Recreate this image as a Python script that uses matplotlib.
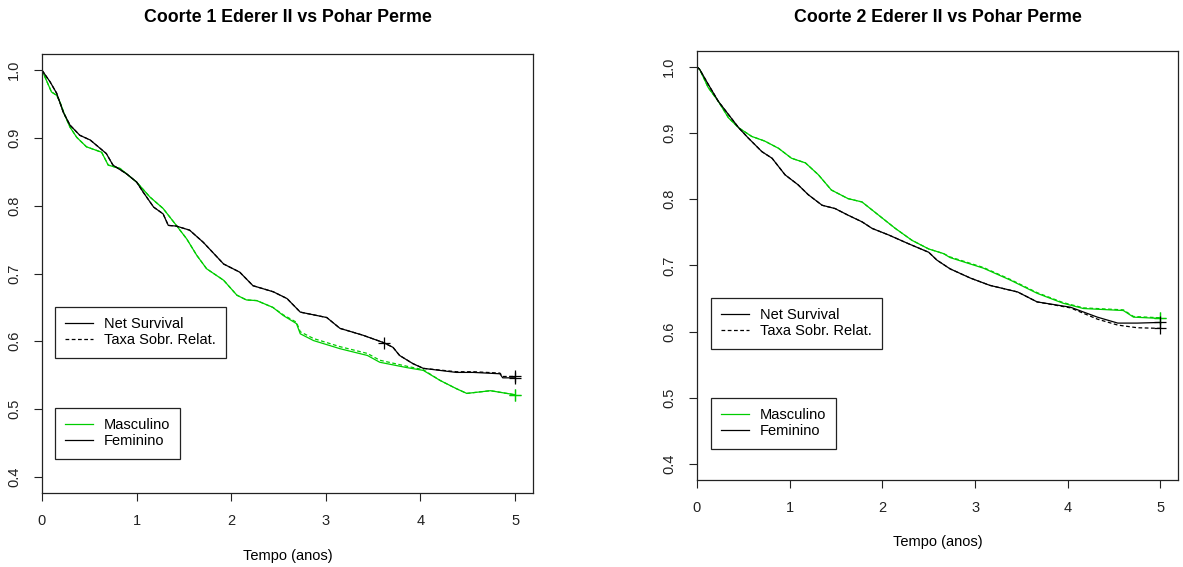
import numpy as np
import matplotlib.pyplot as plt
from matplotlib.lines import Line2D

plt.rcParams["font.family"] = ["Liberation Sans", "DejaVu Sans"]

VERDE = "#00cd00"

# Coorte 1 - sobrevivencia liquida por sexo (Pohar Perme e Ederer II)
c1_masc_t = [0, 0.10, 0.155, 0.19, 0.24, 0.296, 0.367, 0.47, 0.63, 0.70, 0.825, 1.0, 1.14,
             1.28, 1.42, 1.53, 1.635, 1.74, 1.92, 2.06, 2.16, 2.27, 2.44, 2.55, 2.69, 2.73,
             2.87, 3.15, 3.44, 3.57, 3.86, 4.03, 4.21, 4.38, 4.49, 4.74, 4.87, 5.0]
c1_masc_pp = [1.0, 0.968, 0.963, 0.953, 0.934, 0.916, 0.901, 0.887, 0.879, 0.860, 0.855,
              0.835, 0.813, 0.796, 0.771, 0.751, 0.727, 0.707, 0.690, 0.668, 0.661, 0.660,
              0.650, 0.638, 0.626, 0.611, 0.601, 0.589, 0.579, 0.569, 0.561, 0.557, 0.542,
              0.530, 0.523, 0.527, 0.524, 0.521]
c1_masc_e2 = [1.0, 0.968, 0.963, 0.953, 0.934, 0.916, 0.901, 0.887, 0.879, 0.860, 0.855,
              0.835, 0.813, 0.796, 0.771, 0.751, 0.727, 0.707, 0.690, 0.668, 0.661, 0.660,
              0.650, 0.639, 0.628, 0.614, 0.604, 0.592, 0.582, 0.572, 0.563, 0.558, 0.542,
              0.530, 0.523, 0.527, 0.524, 0.521]

c1_fem_t = [0, 0.085, 0.155, 0.225, 0.296, 0.40, 0.51, 0.68, 0.75, 0.895, 1.0, 1.07, 1.18,
            1.28, 1.335, 1.42, 1.56, 1.705, 1.92, 2.09, 2.23, 2.445, 2.59, 2.73, 3.01, 3.15,
            3.39, 3.61, 3.71, 3.78, 3.92, 4.03, 4.38, 4.56, 4.84, 4.87, 5.0]
c1_fem_pp = [1.0, 0.983, 0.966, 0.938, 0.919, 0.904, 0.897, 0.877, 0.860, 0.847, 0.835,
             0.820, 0.798, 0.788, 0.771, 0.770, 0.764, 0.746, 0.714, 0.702, 0.682, 0.673,
             0.663, 0.643, 0.635, 0.619, 0.609, 0.598, 0.591, 0.579, 0.567, 0.560, 0.554,
             0.554, 0.552, 0.546, 0.546]
c1_fem_e2 = [1.0, 0.983, 0.966, 0.938, 0.919, 0.904, 0.897, 0.877, 0.860, 0.847, 0.835,
             0.820, 0.798, 0.788, 0.771, 0.770, 0.764, 0.746, 0.714, 0.702, 0.682, 0.673,
             0.663, 0.643, 0.635, 0.619, 0.609, 0.598, 0.591, 0.579, 0.567, 0.560, 0.555,
             0.555, 0.553, 0.548, 0.548]

# Coorte 2
c2_masc_t = [0, 0.03, 0.12, 0.23, 0.34, 0.45, 0.59, 0.73, 0.88, 1.02, 1.17, 1.31, 1.45,
             1.63, 1.78, 1.96, 2.14, 2.32, 2.50, 2.66, 2.73, 3.09, 3.38, 3.67, 3.95, 4.17,
             4.60, 4.71, 5.0]
c2_masc_pp = [1.0, 0.996, 0.969, 0.948, 0.923, 0.908, 0.895, 0.888, 0.877, 0.862, 0.855,
              0.837, 0.814, 0.801, 0.796, 0.776, 0.756, 0.738, 0.725, 0.718, 0.712, 0.696,
              0.678, 0.658, 0.643, 0.635, 0.632, 0.622, 0.620]
c2_masc_e2 = [1.0, 0.996, 0.969, 0.948, 0.923, 0.908, 0.895, 0.888, 0.877, 0.862, 0.855,
              0.837, 0.814, 0.801, 0.796, 0.776, 0.756, 0.738, 0.725, 0.718, 0.713, 0.697,
              0.679, 0.659, 0.644, 0.636, 0.633, 0.623, 0.621]

c2_fem_t = [0, 0.03, 0.12, 0.23, 0.34, 0.45, 0.55, 0.70, 0.81, 0.95, 1.09, 1.20, 1.35,
            1.49, 1.63, 1.78, 1.89, 2.07, 2.28, 2.50, 2.59, 2.73, 2.95, 3.16, 3.46, 3.67,
            4.03, 4.32, 4.54, 4.75, 5.0]
c2_fem_pp = [1.0, 0.996, 0.974, 0.948, 0.928, 0.908, 0.893, 0.872, 0.862, 0.837, 0.822,
             0.807, 0.791, 0.786, 0.776, 0.766, 0.756, 0.746, 0.733, 0.720, 0.708, 0.695,
             0.681, 0.670, 0.660, 0.645, 0.637, 0.622, 0.613, 0.613, 0.614]
c2_fem_e2 = [1.0, 0.996, 0.974, 0.948, 0.928, 0.908, 0.893, 0.872, 0.862, 0.837, 0.822,
             0.807, 0.791, 0.786, 0.776, 0.766, 0.756, 0.746, 0.733, 0.720, 0.708, 0.695,
             0.681, 0.670, 0.660, 0.645, 0.636, 0.619, 0.610, 0.606, 0.605]

# censuras marcadas (+)
c1_cens_t = [3.62]
c1_cens_v = [0.597]

x_ticks = [0, 1, 2, 3, 4, 5]
y_ticks = [0.4, 0.5, 0.6, 0.7, 0.8, 0.9, 1.0]

fig = plt.figure(figsize=(11.83, 5.67), dpi=100)
W, H = 1183, 567
FS = 10.5


def px_box(x0, y0, x1, y1):
    return [x0 / W, 1 - y1 / H, (x1 - x0) / W, (y1 - y0) / H]


def legenda(ax, handles, labels, pos):
    leg = ax.legend(handles, labels, loc="upper left",
                    bbox_to_anchor=(pos[0] / W, 1 - pos[1] / H),
                    bbox_transform=fig.transFigure, fontsize=FS, frameon=True,
                    fancybox=False, edgecolor="#222222", framealpha=1,
                    handlelength=1.9, handletextpad=0.75, borderpad=0.7,
                    labelspacing=0.15, borderaxespad=0)
    leg.get_frame().set_linewidth(0.9)
    return leg


def painel(ax, titulo, masc_t, masc_pp, masc_e2, fem_t, fem_pp, fem_e2,
           leg1, leg2, xlab_y, titulo_y):
    ax.plot(masc_t, masc_pp, color=VERDE, lw=0.9)
    ax.plot(masc_t, masc_e2, color=VERDE, lw=0.9, ls=(0, (3, 2)))
    ax.plot(fem_t, fem_pp, color="black", lw=0.9)
    ax.plot(fem_t, fem_e2, color="black", lw=0.9, ls=(0, (3, 2)))
    # "+" no fim do seguimento
    ax.plot([masc_t[-1], masc_t[-1]], [masc_pp[-1], masc_e2[-1]], "+", color=VERDE, ms=9, mew=0.9)
    ax.plot([fem_t[-1], fem_t[-1]], [fem_pp[-1], fem_e2[-1]], "+", color="black", ms=9, mew=0.9)

    ax.set_xlim(0, 5.19)
    ax.set_ylim(0.376, 1.024)
    ax.set_xticks(x_ticks)
    ax.set_yticks(y_ticks)
    ax.set_xticklabels([str(v) for v in x_ticks])
    ax.set_yticklabels([f"{v:.1f}" for v in y_ticks], rotation=90, va="center")
    ax.tick_params(direction="out", length=6, width=0.8, labelsize=FS,
                   colors="#222222", pad=9)
    for s in ax.spines.values():
        s.set_linewidth(0.9)
        s.set_color("#222222")

    cx = ax.get_position().x0 + ax.get_position().width / 2
    fig.text(cx, 1 - titulo_y / H, titulo, ha="center", va="center",
             fontsize=12.8, fontweight="bold")
    fig.text(cx, 1 - xlab_y / H, "Tempo (anos)", ha="center", va="center", fontsize=FS)

    h1 = [Line2D([], [], color="black", lw=0.9),
          Line2D([], [], color="black", lw=0.9, ls=(0, (3, 2)))]
    l1 = legenda(ax, h1, ["Net Survival", "Taxa Sobr. Relat."], leg1)
    ax.add_artist(l1)

    h2 = [Line2D([], [], color=VERDE, lw=0.9),
          Line2D([], [], color="black", lw=0.9)]
    legenda(ax, h2, ["Masculino", "Feminino"], leg2)


ax1 = fig.add_axes(px_box(42, 54, 533, 493))
painel(ax1, "Coorte 1 Ederer II vs Pohar Perme",
       c1_masc_t, c1_masc_pp, c1_masc_e2, c1_fem_t, c1_fem_pp, c1_fem_e2,
       (55, 307), (55, 408), 556, 18)
ax1.plot(c1_cens_t, c1_cens_v, "+", color="black", ms=9, mew=0.9)

ax2 = fig.add_axes(px_box(697, 51, 1178, 480))
painel(ax2, "Coorte 2 Ederer II vs Pohar Perme",
       c2_masc_t, c2_masc_pp, c2_masc_e2, c2_fem_t, c2_fem_pp, c2_fem_e2,
       (711, 298), (711, 398), 542, 18)

fig.savefig("out.png", dpi=100)
